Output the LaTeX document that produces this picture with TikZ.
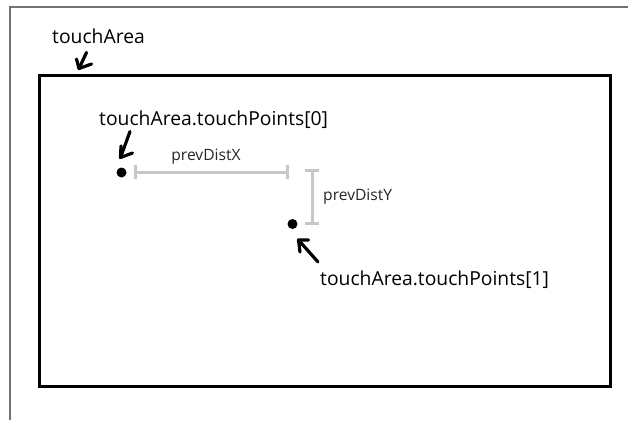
\documentclass[tikz,border=0pt]{standalone}
\usepackage{fontspec}
\setmainfont{Open Sans}
\usetikzlibrary{arrows.meta}
\begin{document}
\begin{tikzpicture}[x=1pt,y=-1pt,
  lbl/.style={inner sep=0pt,font=\fontsize{19.3}{22}\selectfont},
  small/.style={inner sep=0pt,font=\fontsize{15.6}{18}\selectfont,text=black!85},
  hand/.style={line width=3.2pt,line cap=round,line join=round},
  dot/.style={circle,fill=black,inner sep=0pt,minimum size=10pt},
  dim/.style={line width=3pt,draw=black!22,{Bar[width=14pt,line width=3pt]}-{Bar[width=14pt,line width=3pt]}}]
\useasboundingbox (0,0) rectangle (628,420);
\fill[white] (0,0) rectangle (628,420);
% outer frame
\draw[black!55,line width=1.3pt] (10,420) -- (10,7) -- (628,7);
% touch area
\draw[line width=3pt] (39,75) rectangle (610,386);
% labels
\node[lbl,anchor=base west] (ta) at (52,43.3) {touchArea};
\node[lbl,anchor=base west] (tp0) at (99,125) {touchArea.touchPoints[0]};
\node[lbl,anchor=base west] (tp1) at (320,285) {touchArea.touchPoints[1]};
% points
\node[dot] (p0) at (121.5,172.5) {};
\node[dot] (p1) at (292.5,224) {};
% hand arrows
\coordinate (a0tip) at (79,68.5);
\draw[hand] (86.5,52.5) -- (a0tip);
\draw[hand] (76.5,59) -- (a0tip) -- (91.5,64);
\coordinate (a1tip) at (120.5,157.5);
\draw[hand] (130,131.5) -- (a1tip);
\draw[hand] (121,146) -- (a1tip) -- (132.5,153);
\coordinate (a2tip) at (298.5,240);
\draw[hand] (318,262) -- (a2tip);
\draw[hand] (308.5,240) -- (a2tip) -- (300,252);
% dimensions
\coordinate (dx1) at (134,172);
\coordinate (dx2) at (289,172);
\draw[dim] (dx1) -- (dx2);
\node[small,anchor=base] (lx) at (206,160) {prevDistX};
\coordinate (dy1) at (312,168.5);
\coordinate (dy2) at (312,225);
\draw[dim] (dy1) -- (dy2);
\node[small,anchor=west] (ly) at (323,197) {prevDistY};
\end{tikzpicture}
\end{document}
